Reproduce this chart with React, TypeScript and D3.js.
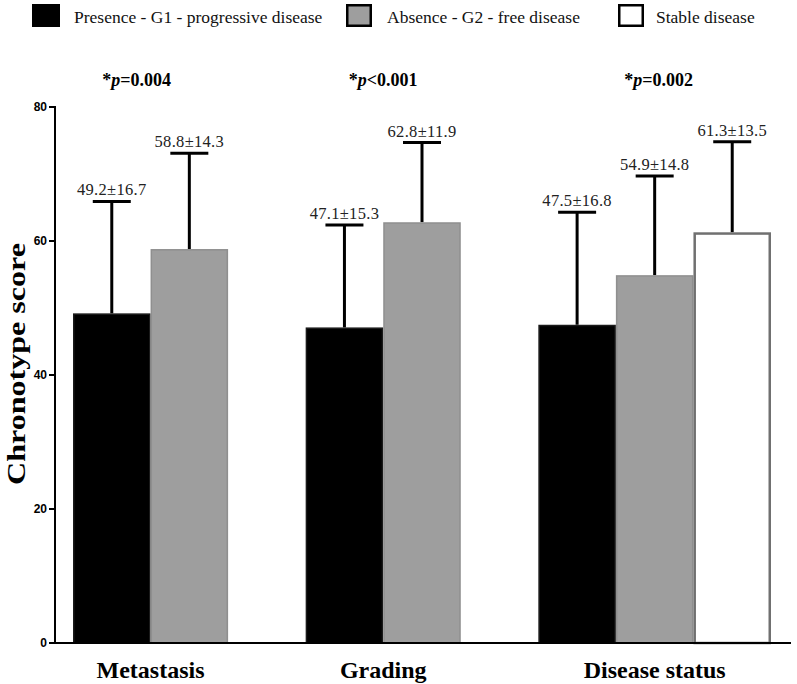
import React from "react";
import * as d3 from "d3";

const categories = ["Metastasis", "Grading", "Disease status"];
const seriesNames = ["Presence - G1 - progressive disease", "Absence - G2 - free disease", "Stable disease"];
const seriesFill = ["#000000", "#9e9e9e", "#ffffff"];
const seriesStroke = ["#1a1a1a", "#8f8f8f", "#707070"];
// means per category, per series (null = not present)
const means: (number | null)[][] = [
  [49.2, 58.8, null],
  [47.1, 62.8, null],
  [47.5, 54.9, 61.3],
];
const sds: (number | null)[][] = [
  [16.7, 14.3, null],
  [15.3, 11.9, null],
  [16.8, 14.8, 13.5],
];
const pLabels = [
  { op: "=", val: "0.004" },
  { op: "<", val: "0.001" },
  { op: "=", val: "0.002" },
];
const yTicks = [0, 20, 40, 60, 80];

const W = 797;
const H = 684;
const axisX = 55;
const axisRight = 791;
const y0 = 643;
const yTop = 107;
const pOffsetX = [-14, 0, 4];

export default function App() {
  const y = d3.scaleLinear().domain([0, 80]).range([y0, yTop]);
  const x0 = d3.scaleBand<string>().domain(categories).range([73, 771]).paddingInner(0).paddingOuter(0);
  const x1 = d3
    .scaleBand<string>()
    .domain(seriesNames)
    .range([0, x0.bandwidth()])
    .paddingInner(0);
  const bw = x1.bandwidth();
  const capW = 38;
  const serif = "'Liberation Serif', 'Times New Roman', serif";
  const sans = "'Liberation Sans', Arial, sans-serif";

  const legendItems = [
    { x: 32, w: 28, textX: 74, fill: seriesFill[0], stroke: "#000", sw: 0 },
    { x: 346, w: 26, textX: 387, fill: seriesFill[1], stroke: "#000", sw: 2.5 },
    { x: 618, w: 26, textX: 656, fill: seriesFill[2], stroke: "#000", sw: 2.5 },
  ];

  const centers = categories.map((c, ci) => {
    const present = seriesNames.filter((_, si) => means[ci][si] != null);
    const start = (x0(c) as number) + (x1(present[0]) as number);
    const end = (x0(c) as number) + (x1(present[present.length - 1]) as number) + bw;
    return (start + end) / 2;
  });

  return (
    <svg
      width={W}
      height={H}
      style={{ position: "absolute", left: 0, top: 0, background: "#fff" }}
      fontFamily={serif}
    >
      <rect x={0} y={0} width={W} height={H} fill="#fff" />
      {/* Legend */}
      {legendItems.map((l, i) => (
        <g key={i}>
          <rect
            x={l.x + l.sw / 2}
            y={4 + l.sw / 2}
            width={l.w - l.sw}
            height={23 - l.sw}
            fill={l.fill}
            stroke={l.sw ? l.stroke : "none"}
            strokeWidth={l.sw}
          />
          <text x={l.textX} y={23} fontSize={17.5} fill="#111">
            {seriesNames[i]}
          </text>
        </g>
      ))}

      {/* p values */}
      {categories.map((c, i) => (
        <text
          key={c}
          x={centers[i] + pOffsetX[i]}
          y={86}
          textAnchor="middle"
          fontSize={18}
          fontWeight="bold"
          fill="#000"
        >
          *<tspan fontStyle="italic">p</tspan>
          {pLabels[i].op}
          {pLabels[i].val}
        </text>
      ))}

      {/* Bars */}
      {categories.map((c, ci) =>
        seriesNames.map((s, si) => {
          const m = means[ci][si];
          const sd = sds[ci][si];
          if (m == null || sd == null) return null;
          const bx = (x0(c) as number) + (x1(s) as number);
          const cx = bx + bw / 2;
          const sw = si === 2 ? 2.5 : 1.5;
          const topErr = y(m + sd);
          return (
            <g key={c + s}>
              <line x1={cx} x2={cx} y1={y(m)} y2={topErr} stroke="#000" strokeWidth={3} />
              <line x1={cx - capW / 2} x2={cx + capW / 2} y1={topErr} y2={topErr} stroke="#000" strokeWidth={3} />
              <rect
                x={bx + sw / 2}
                y={y(m) + sw / 2}
                width={bw - sw}
                height={y0 - y(m) - sw / 2}
                fill={seriesFill[si]}
                stroke={seriesStroke[si]}
                strokeWidth={sw}
              />
              <text x={cx} y={topErr - 6} textAnchor="middle" fontSize={16.5} fill="#222" letterSpacing={0.3}>
                {m.toFixed(1)}±{sd.toFixed(1)}
              </text>
            </g>
          );
        })
      )}

      {/* Y axis */}
      <line x1={axisX} x2={axisX} y1={yTop - 1} y2={y0} stroke="#000" strokeWidth={2} />
      {yTicks.map((t) => (
        <g key={t}>
          <line x1={axisX - 6} x2={axisX} y1={y(t)} y2={y(t)} stroke="#000" strokeWidth={2} />
          <text
            x={axisX - 8}
            y={y(t)}
            dy="0.35em"
            textAnchor="end"
            fontFamily={sans}
            fontWeight="bold"
            fontSize={12}
            fill="#000"
          >
            {t}
          </text>
        </g>
      ))}
      {/* X axis */}
      <line x1={axisX - 6} x2={axisRight} y1={y0} y2={y0} stroke="#000" strokeWidth={2} />

      {/* Category labels, centered on the present bars */}
      {categories.map((c, ci) => (
        <text key={c} x={centers[ci]} y={678} textAnchor="middle" fontSize={24} fontWeight="bold" fill="#000">
          {c}
        </text>
      ))}

      {/* Y title */}
      <text
        transform={`translate(25, 364) rotate(-90)`}
        textAnchor="middle"
        fontSize={26}
        fontWeight="bold"
        fill="#000"
        textLength={242}
        lengthAdjust="spacingAndGlyphs"
      >
        Chronotype score
      </text>
    </svg>
  );
}
